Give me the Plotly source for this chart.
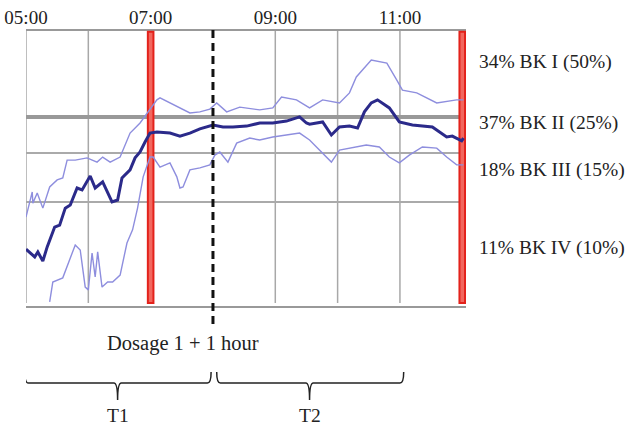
import plotly.graph_objects as go

# ---- data (time in decimal hours, value on a 0-100 relative scale) ----
main_t = [5.00, 5.14, 5.19, 5.27, 5.34, 5.46, 5.54, 5.63, 5.71, 5.82, 5.90, 6.03, 6.11, 6.23, 6.38,
          6.47, 6.54, 6.67, 6.75, 6.83, 6.91, 6.99, 7.10, 7.31, 7.47, 7.63, 7.79, 8.00, 8.16, 8.32,
          8.54, 8.75, 8.96, 9.18, 9.39, 9.50, 9.55, 9.76, 9.90, 10.03, 10.19, 10.32, 10.43, 10.54,
          10.64, 10.83, 10.99, 11.20, 11.52, 11.75, 11.84, 11.99, 12.02]
main_v = [21.1, 18.3, 20.1, 16.8, 21.9, 29.0, 29.7, 35.8, 36.9, 43.0, 42.3, 47.3, 43.0, 45.2, 38.0,
          38.7, 46.6, 49.5, 53.8, 55.9, 59.5, 62.7, 63.1, 62.7, 61.6, 62.7, 64.2, 65.6, 64.9, 64.9,
          65.2, 66.3, 66.3, 67.0, 68.5, 66.3, 65.9, 66.7, 62.0, 64.9, 65.2, 64.5, 70.3, 73.5,
          74.6, 71.7, 66.7, 65.6, 64.9, 61.3, 61.6, 59.9, 60.9]

upper_t = [5.00, 5.10, 5.11, 5.18, 5.27, 5.38, 5.50, 5.59, 5.66, 5.79, 5.98, 6.14, 6.23, 6.35, 6.51,
           6.67, 6.83, 6.99, 7.10, 7.15, 7.31, 7.47, 7.63, 7.79, 7.95, 8.06, 8.22, 8.43, 8.75, 8.96,
           9.10, 9.34, 9.55, 9.76, 10.03, 10.19, 10.30, 10.54, 10.79, 10.95, 11.04, 11.27, 11.59,
           11.91, 12.02]
upper_v = [32.6, 41.6, 37.6, 41.2, 35.8, 43.4, 45.9, 46.6, 53.0, 53.0, 53.8, 52.3, 54.1, 52.3, 54.1,
           62.7, 66.3, 71.0, 74.6, 75.3, 73.5, 71.7, 69.9, 70.3, 71.3, 73.5, 70.3, 72.0, 71.0, 71.7,
           75.6, 74.6, 71.7, 74.6, 73.5, 77.1, 82.8, 88.9, 87.8, 81.7, 78.1, 77.1, 73.5,
           74.6, 74.6]

lower_t = [5.38, 5.43, 5.59, 5.79, 5.87, 5.95, 6.00, 6.06, 6.11, 6.15, 6.22, 6.31, 6.39, 6.51, 6.62,
           6.71, 6.79, 6.88, 6.99, 7.04, 7.15, 7.31, 7.42, 7.47, 7.52, 7.63, 7.79, 7.95, 8.03, 8.11,
           8.24, 8.38, 8.59, 8.75, 8.96, 9.18, 9.39, 9.55, 9.71, 9.90, 10.03, 10.19, 10.46, 10.67,
           10.83, 10.99, 11.15, 11.36, 11.59, 11.75, 11.91, 12.02]
lower_v = [2.2, 9.3, 10.8, 22.6, 20.8, 7.5, 6.5, 19.7, 11.1, 20.1, 7.5, 9.3, 9.3, 11.8, 23.3,
           28.0, 35.8, 47.0, 54.1, 54.1, 50.5, 52.0, 47.0, 43.0, 43.4, 49.5, 50.2, 51.3, 54.8, 55.9,
           52.3, 59.1, 60.9, 60.2, 61.3, 62.0, 62.7, 60.2, 56.6, 52.3, 56.6, 57.3, 58.4, 57.7,
           54.1, 52.0, 54.8, 57.7, 57.3, 54.1, 51.3, 51.3]

tick_vals = [5, 7, 9, 11]
tick_text = ["05:00", "07:00", "09:00", "11:00"]

band_lines = [100, 68.5, 55.6, 38.0, 0]          # horizontal reference lines
band_widths = [4, 4, 2, 2, 4]
band_labels = ["34% BK I (50%)", "37% BK II (25%)", "18% BK III (15%)", "11% BK IV (10%)"]
band_label_v = [88.2, 66.3, 49.5, 21.5]

grid_hours = [5, 6, 9, 10, 11]
red_hours = [7.0, 12.0]
dosage_hour = 8.0
periods = [("T1", 4.98, 7.97, 6.47), ("T2", 8.06, 11.06, 9.55)]

FONT = "Liberation Serif"
fig = go.Figure()

fig.add_trace(go.Scatter(x=upper_t, y=upper_v, mode="lines",
                         line=dict(color="#8e8ede", width=1.4), hoverinfo="skip"))
fig.add_trace(go.Scatter(x=lower_t, y=lower_v, mode="lines",
                         line=dict(color="#8e8ede", width=1.4), hoverinfo="skip"))
fig.add_trace(go.Scatter(x=main_t, y=main_v, mode="lines",
                         line=dict(color="#2b2a8a", width=3), hoverinfo="skip"))

shapes = []
# vertical grid lines
for h in grid_hours:
    shapes.append(dict(type="line", xref="x", yref="y", x0=h, x1=h, y0=1.8, y1=100,
                       line=dict(color="#a8a8a8", width=1.5), layer="below"))
# horizontal lines
for v, w in zip(band_lines, band_widths):
    shapes.append(dict(type="line", xref="x", yref="y", x0=4.98, x1=12.06, y0=v, y1=v,
                       line=dict(color="#999999" if w > 2 else "#aaaaaa", width=w), layer="below"))
# red markers
for h in red_hours:
    shapes.append(dict(type="rect", xref="x", yref="y", x0=h - 0.045, x1=h + 0.045, y0=1.8, y1=99,
                       fillcolor="#f2675e", line=dict(color="#e3221b", width=2), layer="below"))
# dashed dosage line
shapes.append(dict(type="line", xref="x", yref="paper", x0=dosage_hour, x1=dosage_hour,
                   y0=-0.057, y1=1.011, line=dict(color="#111111", width=3, dash="8px,5px")))
# braces
for name, xa, xb, xm in periods:
    d = 0.06
    yt, yh, yp = -0.229, -0.269, -0.330
    path = (f"M {xa},{yt} Q {xa},{yh} {xa + d},{yh} L {xm - d},{yh} "
            f"Q {xm},{yh} {xm},{yp} Q {xm},{yh} {xm + d},{yh} L {xb - d},{yh} "
            f"Q {xb},{yh} {xb},{yt}")
    shapes.append(dict(type="path", xref="x", yref="paper", path=path,
                       line=dict(color="#222222", width=1.5)))

annotations = []
for lab, v in zip(band_labels, band_label_v):
    annotations.append(dict(text=lab, xref="paper", yref="y", x=1.026, y=v, xanchor="left",
                            yanchor="middle", showarrow=False,
                            font=dict(family=FONT, size=19.5, color="#222222")))
annotations.append(dict(text="Dosage 1 + 1 hour", xref="x", yref="paper", x=7.52, y=-0.129,
                        xanchor="center", yanchor="middle", showarrow=False,
                        font=dict(family=FONT, size=20.5, color="#222222")))
for name, xa, xb, xm in periods:
    annotations.append(dict(text=name, xref="x", yref="paper", x=xm, y=-0.384,
                            xanchor="center", yanchor="middle", showarrow=False,
                            font=dict(family=FONT, size=19.5, color="#222222")))

fig.update_layout(
    width=629, height=425,
    margin=dict(l=26, r=162.5, t=29, b=117, autoexpand=False),
    paper_bgcolor="white", plot_bgcolor="white",
    showlegend=False,
    shapes=shapes, annotations=annotations,
    xaxis=dict(range=[5, 12.06], side="top", tickvals=tick_vals, ticktext=tick_text,
               showgrid=False, zeroline=False, showline=False, ticks="", automargin=False,
               tickfont=dict(family=FONT, size=19, color="#222222"), fixedrange=True),
    yaxis=dict(range=[0, 100], showgrid=False, zeroline=False, showline=False, automargin=False,
               showticklabels=False, ticks="", fixedrange=True),
)

fig.write_html("out.html", config={"displayModeBar": False},
               post_script="document.body.style.margin='0';document.body.style.overflow='hidden';")
